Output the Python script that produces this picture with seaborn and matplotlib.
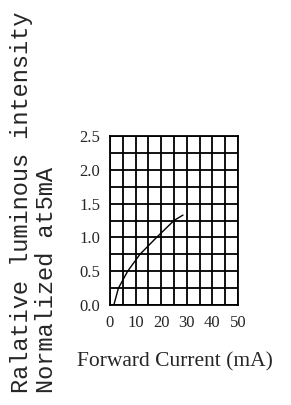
import numpy as np
import pandas as pd
import matplotlib
matplotlib.use("Agg")
import matplotlib.pyplot as plt
import seaborn as sns

# ── DATA ───────────────────────────────────────────────────────────
current_ma = [1.5, 3.3, 6.9, 11.7, 18.2, 25.0, 28.5]
rel_intensity = [0.0, 0.25, 0.5, 0.75, 1.0, 1.25, 1.33]
x_ticks = [0, 10, 20, 30, 40, 50]
y_ticks = [0.0, 0.5, 1.0, 1.5, 2.0, 2.5]

df = pd.DataFrame({"current": current_ma, "intensity": rel_intensity})

# ── STYLE ──────────────────────────────────────────────────────────
sns.set_style("white")
plt.rcParams["font.family"] = ["Liberation Serif", "DejaVu Serif"]

fig = plt.figure(figsize=(2.91, 4.05), dpi=100)
ax = fig.add_axes([110 / 291, 1 - 305 / 405, 128 / 291, 169 / 405])

sns.lineplot(data=df, x="current", y="intensity", ax=ax,
             color="black", linewidth=1.0, estimator=None, sort=False)

# grid: every 5 mA and every 0.25, labels only on the major ticks
ax.set_xlim(0, 50)
ax.set_ylim(0, 2.5)
ax.set_xticks(x_ticks)
ax.set_xticks(np.arange(5, 50, 10), minor=True)
ax.set_yticks(y_ticks)
ax.set_yticks(np.arange(0.25, 2.5, 0.5), minor=True)
ax.grid(True, which="both", color="black", linewidth=1.3)
ax.set_xticklabels([str(t) for t in x_ticks], fontsize=12)
ax.set_yticklabels([f"{t:.1f}" for t in y_ticks], fontsize=12)
ax.tick_params(length=0, pad=7, which="both")
for s in ax.spines.values():
    s.set_color("black")
    s.set_linewidth(1.3)
ax.set_xlabel("")
ax.set_ylabel("")

fig.text(77 / 291, 1 - 362 / 405, "Forward Current (mA)",
         fontsize=15.5, ha="left", va="center")
mono = ["Liberation Mono", "DejaVu Sans Mono"]
fig.text(22 / 291, 1 - 393 / 405, "Ralative luminous intensity",
         family=mono, fontsize=17, rotation=90, ha="center", va="bottom")
fig.text(47 / 291, 1 - 393 / 405, "Normalized at5mA",
         family=mono, fontsize=17, rotation=90, ha="center", va="bottom")

plt.savefig("out.png", dpi=100)
